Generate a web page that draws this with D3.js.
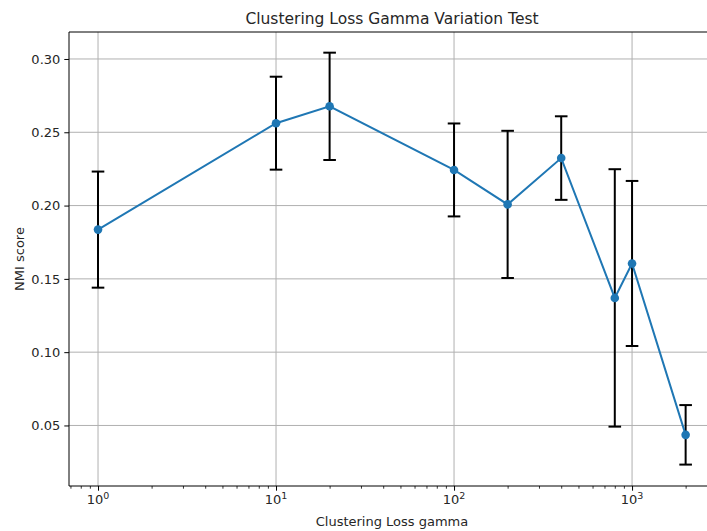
<!DOCTYPE html>
<html>
<head>
<meta charset="utf-8">
<script src="https://cdn.jsdelivr.net/npm/d3@7"></script>
<style>
  html, body { margin: 0; padding: 0; background: #fff; }
  svg { display: block; font-family: "DejaVu Sans", sans-serif; }
</style>
</head>
<body>
<svg id="chart" width="707" height="531"></svg>
<script>
// Clustering loss gamma values tested and the resulting NMI (mean ± std)
const gammas   = [1, 10, 20, 100, 200, 400, 800, 1000, 2000];
const nmiMean  = [0.1836, 0.2562, 0.2677, 0.2243, 0.2008, 0.2324, 0.1370, 0.1605, 0.0436];
const nmiStd   = [0.0396, 0.0317, 0.0366, 0.0317, 0.0502, 0.0285, 0.0878, 0.0563, 0.0203];
const yTicks   = [0.05, 0.10, 0.15, 0.20, 0.25, 0.30];
const xTicks   = [1, 10, 100, 1000];

const svg = d3.select("#chart");
const W = 707, H = 531;
const plot = { left: 69, top: 32, bottom: 486, right: 715 };

const x = d3.scaleLog()
  .domain([Math.pow(10, -0.163), Math.pow(10, 3.466)])
  .range([plot.left, plot.right]);
const y = d3.scaleLinear()
  .domain([0.0087, 0.3184])
  .range([plot.bottom, plot.top]);

const data = gammas.map((g, i) => ({ g, m: nmiMean[i], s: nmiStd[i] }));

// Grid lines
const grid = svg.append("g");
grid.selectAll("line.gx").data(xTicks).join("line")
  .attr("x1", d => x(d)).attr("x2", d => x(d))
  .attr("y1", plot.top).attr("y2", plot.bottom)
  .attr("stroke", "#b0b0b0").attr("stroke-width", 1);
grid.selectAll("line.gy").data(yTicks).join("line")
  .attr("x1", plot.left).attr("x2", plot.right)
  .attr("y1", d => y(d)).attr("y2", d => y(d))
  .attr("stroke", "#b0b0b0").attr("stroke-width", 1);

// Spines (right one falls outside the canvas)
svg.append("line").attr("x1", plot.left).attr("x2", plot.left)
  .attr("y1", plot.top).attr("y2", plot.bottom).attr("stroke", "#000").attr("stroke-width", 1);
svg.append("line").attr("x1", plot.left).attr("x2", plot.right)
  .attr("y1", plot.bottom).attr("y2", plot.bottom).attr("stroke", "#000").attr("stroke-width", 1);
svg.append("line").attr("x1", plot.left).attr("x2", plot.right)
  .attr("y1", plot.top).attr("y2", plot.top).attr("stroke", "#000").attr("stroke-width", 1);

// X axis: major ticks with superscript labels, minor log ticks
const xAxis = d3.axisBottom(x).tickValues(xTicks).tickSize(4.7).tickFormat("");
const gx = svg.append("g").attr("transform", `translate(0,${plot.bottom})`).call(xAxis);
gx.select(".domain").remove();
gx.selectAll(".tick line").attr("stroke", "#000").attr("stroke-width", 1);

const [d0, d1] = x.domain();
const minor = [];
for (let e = -1; e <= 4; e++) {
  for (let k = 2; k <= 9; k++) {
    const v = k * Math.pow(10, e);
    if (v >= d0 && v <= d1) minor.push(v);
  }
}
const xMinor = d3.axisBottom(x).tickValues(minor).tickSize(2.7).tickFormat("");
const gxm = svg.append("g").attr("transform", `translate(0,${plot.bottom})`).call(xMinor);
gxm.select(".domain").remove();
gxm.selectAll(".tick line").attr("stroke", "#000").attr("stroke-width", 0.8);

const xl = svg.append("g").selectAll("text").data(xTicks).join("text")
  .attr("x", d => x(d)).attr("y", plot.bottom + 18)
  .attr("text-anchor", "middle").attr("font-size", 13).attr("fill", "#262626");
xl.append("tspan").text("10");
xl.append("tspan").attr("font-size", 9.5).attr("dy", -5).text(d => Math.round(Math.log10(d)));

// Y axis
const yAxis = d3.axisLeft(y).tickValues(yTicks).tickSize(4.7).tickPadding(4).tickFormat(d3.format(".2f"));
const gy = svg.append("g").attr("transform", `translate(${plot.left},0)`).call(yAxis);
gy.select(".domain").remove();
gy.selectAll(".tick line").attr("stroke", "#000").attr("stroke-width", 1);
gy.selectAll(".tick text").attr("font-size", 13).attr("fill", "#262626")
  .attr("font-family", "DejaVu Sans, sans-serif");

// Error bars
const eb = svg.append("g").attr("stroke", "#000").attr("stroke-width", 2);
eb.selectAll("line.v").data(data).join("line")
  .attr("x1", d => x(d.g)).attr("x2", d => x(d.g))
  .attr("y1", d => y(d.m - d.s)).attr("y2", d => y(d.m + d.s));
eb.selectAll("line.top").data(data).join("line")
  .attr("x1", d => x(d.g) - 6.3).attr("x2", d => x(d.g) + 6.3)
  .attr("y1", d => y(d.m + d.s)).attr("y2", d => y(d.m + d.s));
eb.selectAll("line.bot").data(data).join("line")
  .attr("x1", d => x(d.g) - 6.3).attr("x2", d => x(d.g) + 6.3)
  .attr("y1", d => y(d.m - d.s)).attr("y2", d => y(d.m - d.s));

// Mean line with markers
const line = d3.line().x(d => x(d.g)).y(d => y(d.m));
svg.append("path").datum(data).attr("d", line)
  .attr("fill", "none").attr("stroke", "#1f77b4").attr("stroke-width", 2);
svg.append("g").selectAll("circle").data(data).join("circle")
  .attr("cx", d => x(d.g)).attr("cy", d => y(d.m)).attr("r", 4.3)
  .attr("fill", "#1f77b4");

// Title and axis labels
svg.append("text").attr("x", (plot.left + plot.right) / 2).attr("y", 24)
  .attr("text-anchor", "middle").attr("font-size", 15.5).attr("fill", "#262626")
  .text("Clustering Loss Gamma Variation Test");
svg.append("text").attr("x", (plot.left + plot.right) / 2).attr("y", 526)
  .attr("text-anchor", "middle").attr("font-size", 13).attr("fill", "#262626")
  .text("Clustering Loss gamma");
svg.append("text").attr("transform", `translate(24,${(plot.top + plot.bottom) / 2}) rotate(-90)`)
  .attr("text-anchor", "middle").attr("font-size", 13).attr("fill", "#262626")
  .text("NMI score");
</script>
</body>
</html>
